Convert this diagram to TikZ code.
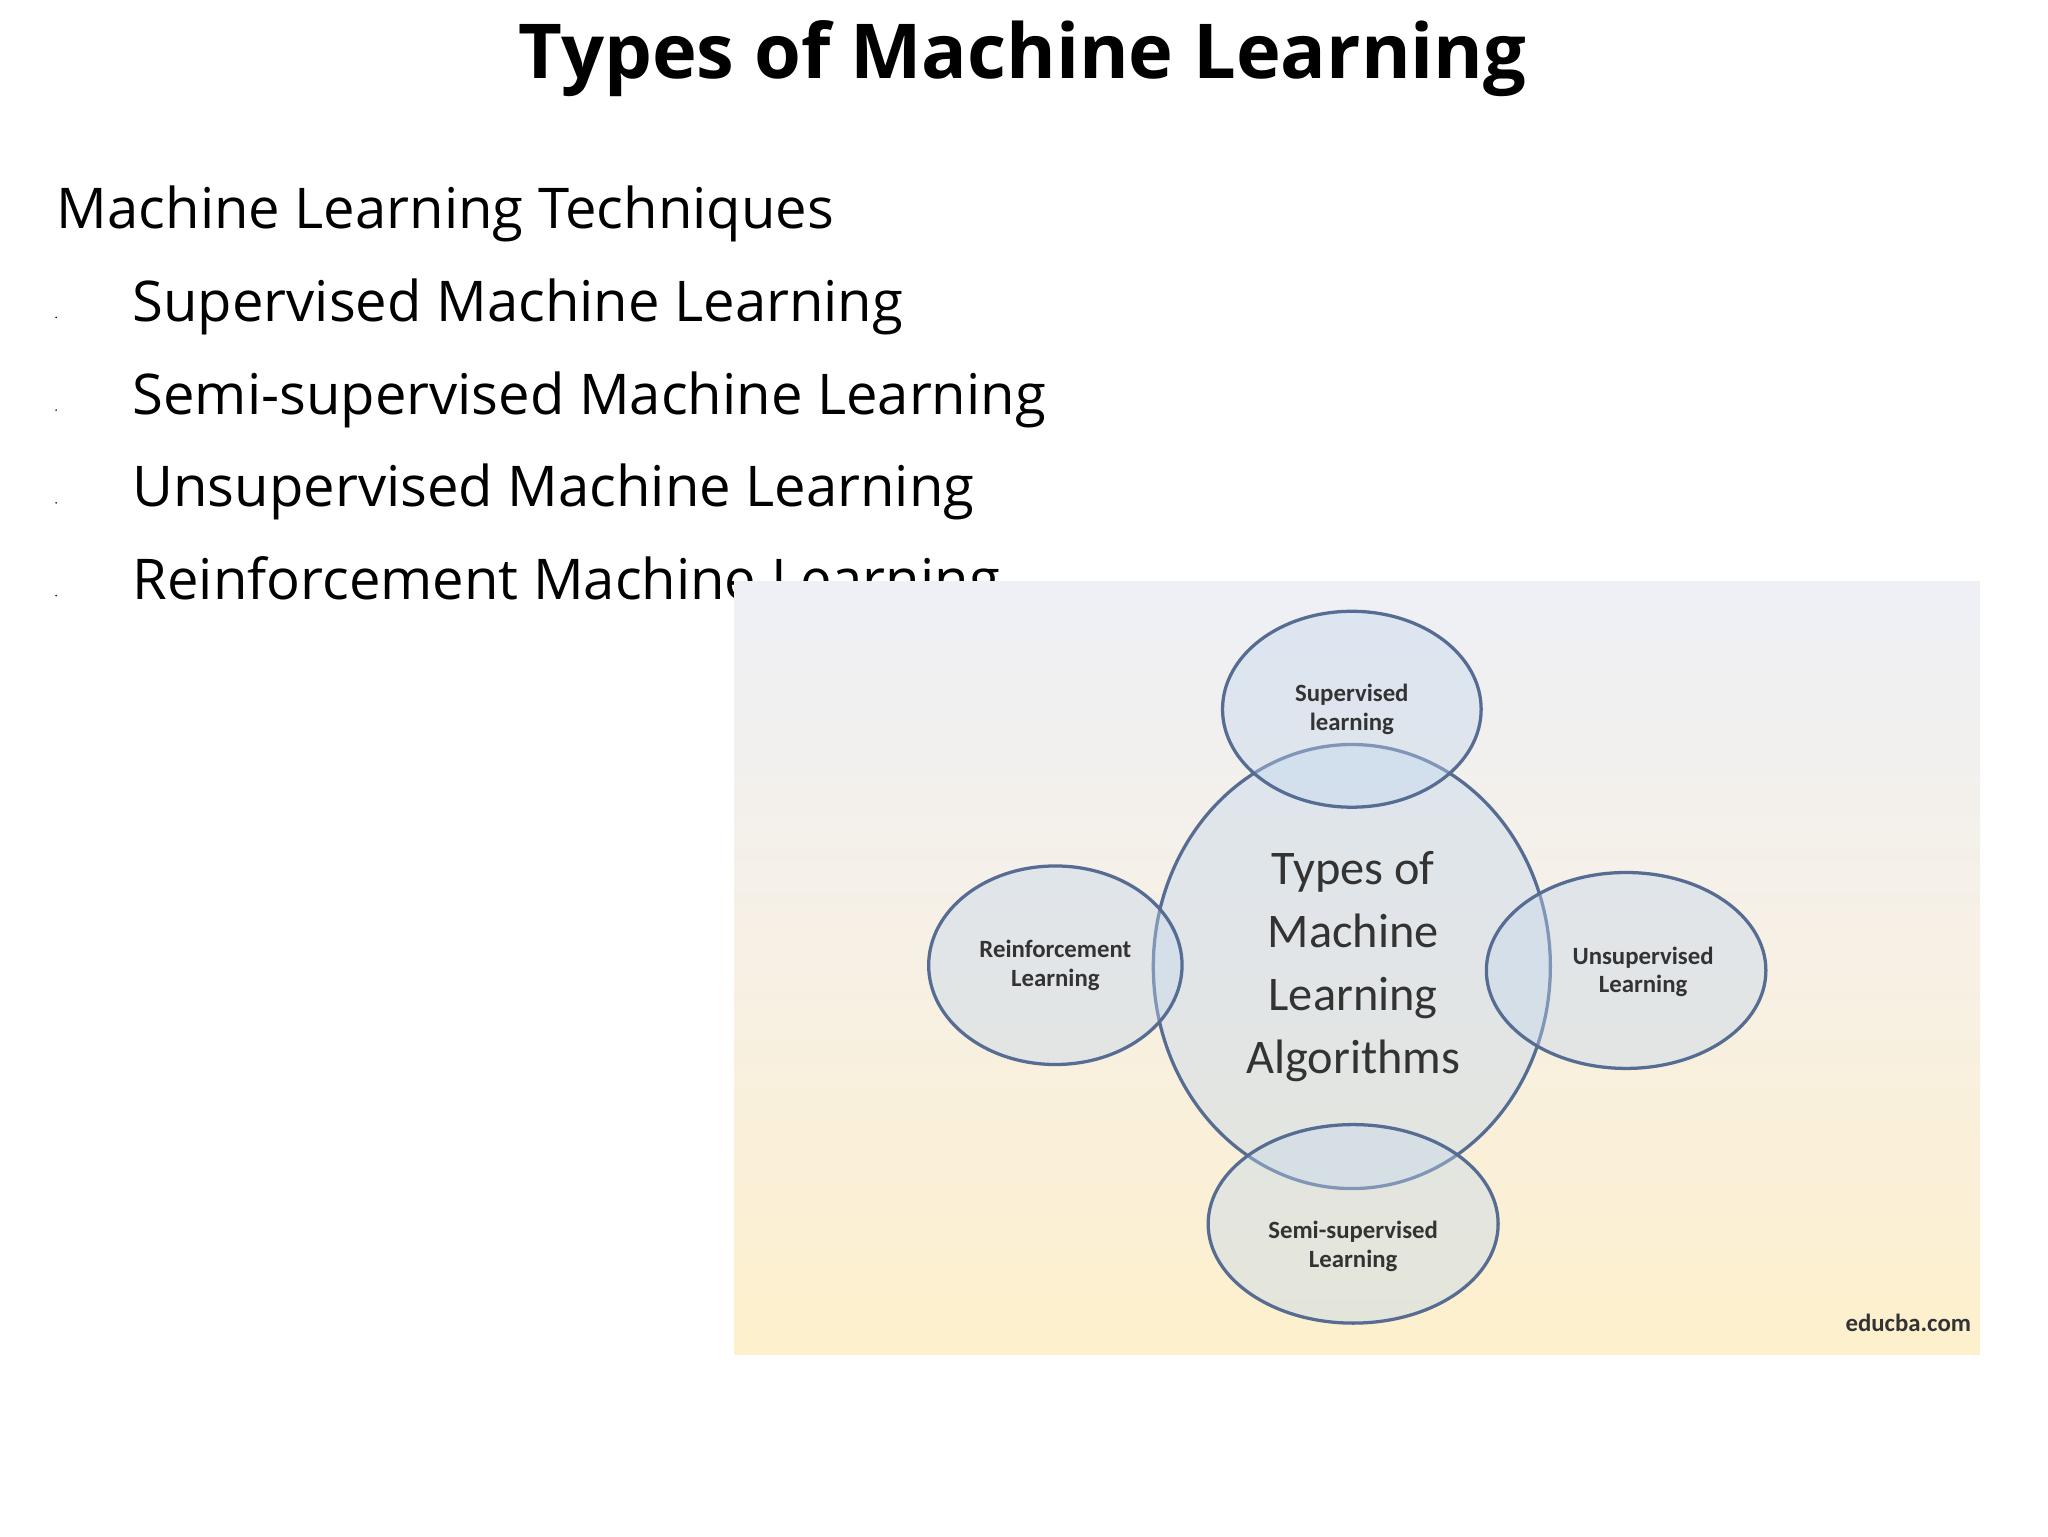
\documentclass[tikz,border=0pt]{standalone}
\usepackage{fontspec}
\usetikzlibrary{shapes.geometric}
\setmainfont{Open Sans}
\newfontfamily\diagfont{Carlito}
\begin{document}
\begin{tikzpicture}[x=1pt,y=-1pt,
  ell/.style={draw=ecol,line width=2.5pt,fill=efill,fill opacity=0.4,text opacity=1,inner sep=0pt},
  small/.style={font=\diagfont\bfseries\fontsize{19}{22}\selectfont,text=black!80,align=center},
  bul/.style={anchor=base west,font=\fontsize{43}{50}\selectfont}]
\definecolor{ecol}{HTML}{566C92}
\definecolor{efill}{HTML}{C2D6EC}
\useasboundingbox (0,0) rectangle (1568,1176);
\node[font=\bfseries\fontsize{58}{66}\selectfont] (title) at (783,45) {Types of Machine Learning};
\node[bul] (h) at (40,175) {Machine Learning Techniques};
\node[bul] (b1) at (98,246) {Supervised Machine Learning};
\node[bul] (b2) at (98,317) {Semi-supervised Machine Learning};
\node[bul] (b3) at (98,388) {Unsupervised Machine Learning};
\node[bul] (b4) at (98,459) {Reinforcement Machine Learning};
\foreach \yy in {243,314,385,456} \fill (43,\yy) circle (0.7);
\shade[top color={rgb,255:red,238;green,240;blue,246},bottom color={rgb,255:red,253;green,240;blue,204},middle color={rgb,255:red,247;green,240;blue,228}] (562,445) rectangle (1516,1037);
\node[ell,minimum width=304,minimum height=340,ellipse] (c) at (1035,740) {};
\node[ell,ellipse,minimum width=198,minimum height=150] (s) at (1035,543) {};
\node[ell,ellipse,minimum width=194,minimum height=152] (r) at (808,739) {};
\node[ell,ellipse,minimum width=214,minimum height=150] (u) at (1245,743) {};
\node[ell,ellipse,minimum width=222,minimum height=152] (m) at (1036,937) {};
\node[font=\diagfont\fontsize{37}{48}\selectfont,align=center,text=black!80] at (1036,740) {Types of\\Machine\\Learning\\Algorithms};
\node[small] at (1035,543) {Supervised\\learning};
\node[small] at (808,739) {Reinforcement\\Learning};
\node[small] at (1258,744) {Unsupervised\\Learning};
\node[small] at (1036,954) {Semi-supervised\\Learning};
\node[font=\diagfont\bfseries\fontsize{19}{22}\selectfont,text=black!80] at (1461,1013) {educba.com};
\end{tikzpicture}
\end{document}
